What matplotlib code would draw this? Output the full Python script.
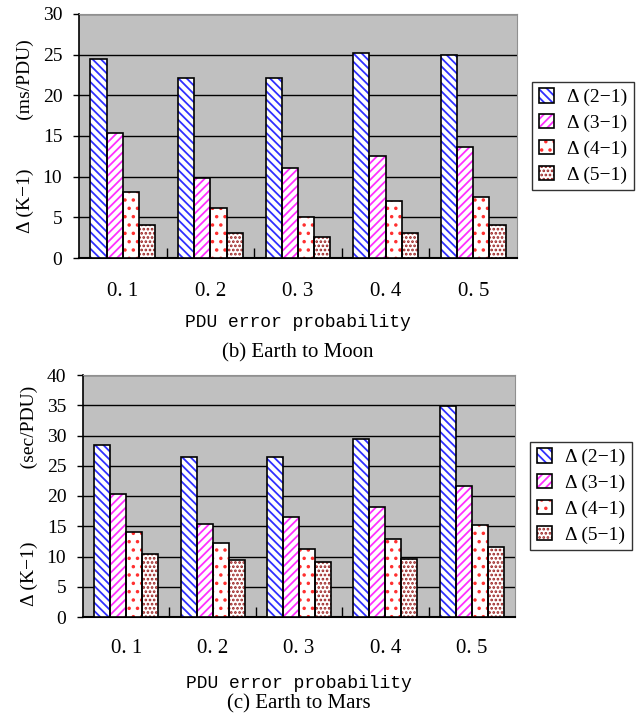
import numpy as np
import matplotlib
matplotlib.use('Agg')
import matplotlib.pyplot as plt
from matplotlib.patches import Patch
from matplotlib.legend_handler import HandlerTuple

categories = ['0. 1', '0. 2', '0. 3', '0. 4', '0. 5']
series = ['Δ (2−1)', 'Δ (3−1)', 'Δ (4−1)', 'Δ (5−1)']

moon_21 = [24.5, 22.1, 22.1, 25.2, 24.9]
moon_31 = [15.4, 9.8, 11.1, 12.5, 13.6]
moon_41 = [8.1, 6.1, 5.1, 7.0, 7.5]
moon_51 = [4.1, 3.1, 2.6, 3.1, 4.1]

mars_21 = [28.4, 26.4, 26.4, 29.5, 34.8]
mars_31 = [20.3, 15.4, 16.5, 18.1, 21.7]
mars_41 = [14.0, 12.2, 11.3, 12.9, 15.2]
mars_51 = [10.4, 9.5, 9.1, 9.6, 11.5]

# hatch pattern and hatch colour for each series
hatches = ['\\\\\\\\', '////', '..', '....']
hatch_colors = ['#3030ff', '#ff30ff', '#ff3030', '#9a2020']

serif = 'Liberation Serif'
mono = 'Liberation Mono'
plt.rcParams['hatch.linewidth'] = 1.3


def panel(ax, data, ymax, ylabel, caption, ax_h, tick_off, xl_off, cap_off):
    x = np.arange(len(categories))
    w = 0.185
    handles = []
    for i, vals in enumerate(data):
        pos = x + (i - 1.5) * w
        ax.bar(pos, vals, w, color='white', edgecolor=hatch_colors[i],
               hatch=hatches[i], linewidth=0, zorder=3)
        ax.bar(pos, vals, w, fill=False, edgecolor='black', linewidth=1.2, zorder=4)
        h1 = Patch(facecolor='white', edgecolor=hatch_colors[i], hatch=hatches[i], linewidth=0)
        h2 = Patch(fill=False, edgecolor='black', linewidth=1.2)
        handles.append((h1, h2))

    ax.set_facecolor('#c0c0c0')
    ax.set_xlim(-0.5, len(categories) - 0.5)
    ax.set_ylim(0, ymax)
    ax.set_yticks(np.arange(0, ymax + 1, 5))
    ax.yaxis.grid(True, color='black', linewidth=1)
    ax.set_axisbelow(True)
    for lbl in ax.get_yticklabels():
        lbl.set_fontfamily(serif)
        lbl.set_fontsize(14)
    ax.tick_params(axis='y', length=4, width=1, pad=8)

    # category labels centred, ticks between groups
    ax.set_xticks(x)
    ax.set_xticklabels(categories, fontfamily=serif, fontsize=15)
    ax.tick_params(axis='x', length=0, pad=tick_off)
    ax.set_xticks(np.arange(0.5, len(categories) - 1, 1), minor=True)
    ax.tick_params(axis='x', which='minor', direction='in', length=7, width=1)

    ax.spines['left'].set_color('black')
    ax.spines['bottom'].set_color('black')
    ax.spines['left'].set_linewidth(1.2)
    ax.spines['bottom'].set_linewidth(1.5)
    ax.spines['top'].set_color('#909090')
    ax.spines['right'].set_color('#909090')

    ax.set_ylabel(ylabel, fontfamily=serif, fontsize=14, labelpad=6)
    ax.set_xlabel('PDU error probability', fontfamily=mono, fontsize=13, va='center')
    ax.xaxis.set_label_coords(0.5, -xl_off / ax_h)

    leg = ax.legend(handles, series, loc='center left', bbox_to_anchor=(1.035, 0.5),
                    handler_map={tuple: HandlerTuple(ndivide=1, pad=0)},
                    prop={'family': serif, 'size': 14}, frameon=True, fancybox=False,
                    edgecolor='black', handlelength=0.75, handleheight=0.75,
                    handletextpad=0.7, borderpad=0.35, labelspacing=0.4, borderaxespad=0)
    leg.get_frame().set_linewidth(1)

    ax.text(0.5, -cap_off / ax_h, caption, transform=ax.transAxes, ha='center',
            va='center', fontfamily=serif, fontsize=15)


fig = plt.figure(figsize=(6.39, 7.13), dpi=100)
ax1 = fig.add_axes([79 / 639, 1 - 258 / 713, 438 / 639, 244 / 713])
ax2 = fig.add_axes([83 / 639, 1 - 617 / 713, 432 / 639, 242 / 713])

panel(ax1, [moon_21, moon_31, moon_41, moon_51], 30,
      'Δ (K−1)          (ms/PDU)', '(b) Earth to Moon', 244, 17, 64, 95)
panel(ax2, [mars_21, mars_31, mars_41, mars_51], 40,
      'Δ (K−1)               (sec/PDU)', '(c) Earth to Mars', 242, 16, 67, 87)

plt.savefig('out.png', dpi=100)
